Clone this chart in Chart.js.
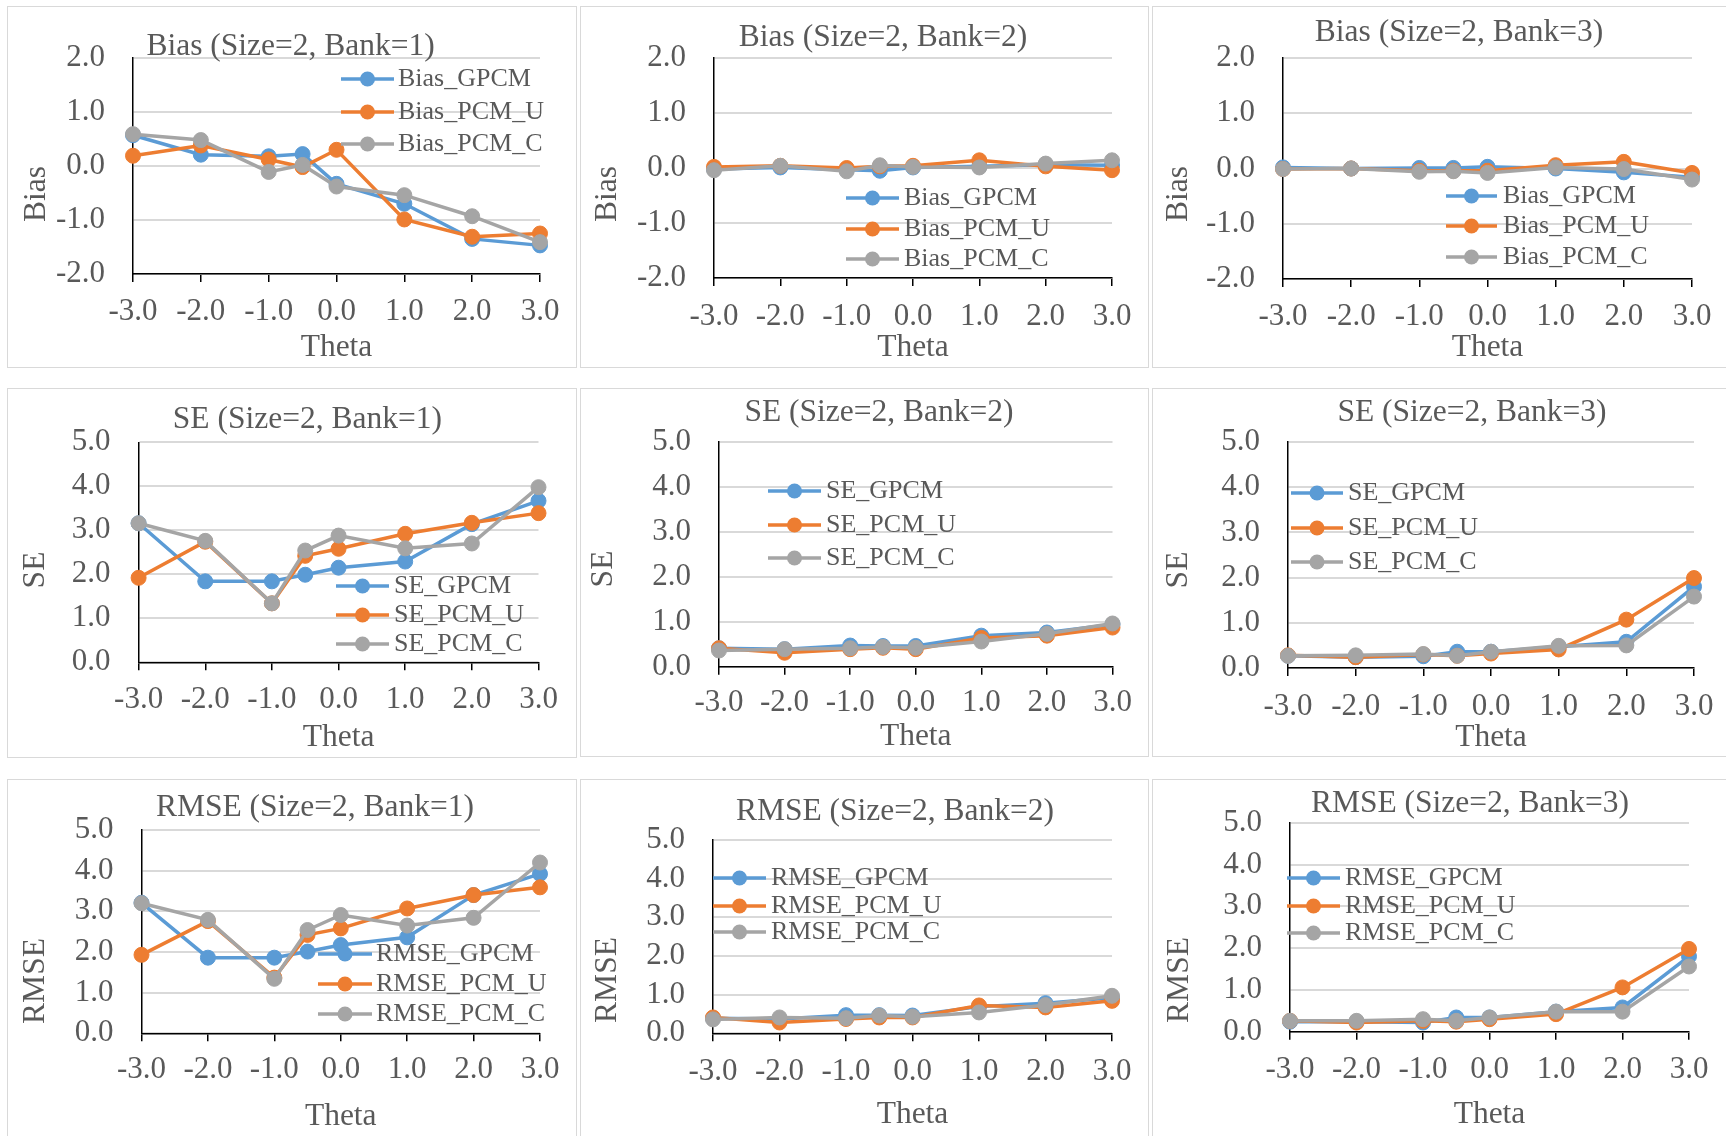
<!DOCTYPE html>
<html>
<head>
<meta charset="utf-8">
<script src="https://cdn.jsdelivr.net/npm/chart.js@4.4.1/dist/chart.umd.min.js"></script>
<style>
  html, body { margin: 0; padding: 0; background: #ffffff; }
  body { width: 1726px; height: 1136px; position: relative; overflow: hidden; }
  .panel { position: absolute; box-sizing: border-box; border: 1.5px solid #D9D9D9; }
  canvas { position: absolute; }
</style>
</head>
<body>
<script>
// ---- data ----
const theta = [-3, -2, -1, -0.5, 0, 1, 2, 3];
const thetaTicks = [-3, -2, -1, 0, 1, 2, 3];
const biasTicks = [-2, -1, 0, 1, 2];
const errorTicks = [0, 1, 2, 3, 4, 5];
const models = ['GPCM', 'PCM_U', 'PCM_C'];

const bias1GPCM = [0.57, 0.21, 0.18, 0.22, -0.33, -0.70, -1.35, -1.47];
const bias1PCMU = [0.19, 0.38, 0.12, -0.02, 0.30, -0.99, -1.31, -1.25];
const bias1PCMC = [0.59, 0.48, -0.11, 0.02, -0.38, -0.54, -0.93, -1.41];

const bias2GPCM = [-0.02, 0.01, -0.03, -0.05, 0.01, 0.03, 0.06, 0.05];
const bias2PCMU = [0.02, 0.04, 0.00, 0.03, 0.04, 0.14, 0.03, -0.04];
const bias2PCMC = [-0.04, 0.04, -0.06, 0.05, 0.02, 0.01, 0.08, 0.14];

const bias3GPCM = [0.02, 0.00, 0.01, 0.01, 0.03, 0.00, -0.07, -0.16];
const bias3PCMU = [-0.01, 0.00, -0.04, -0.04, -0.04, 0.06, 0.12, -0.08];
const bias3PCMC = [-0.01, 0.00, -0.06, -0.05, -0.08, 0.02, -0.01, -0.20];

const se1GPCM = [3.16, 1.84, 1.84, 1.99, 2.15, 2.29, 3.14, 3.67];
const se1PCMU = [1.92, 2.74, 1.34, 2.42, 2.58, 2.92, 3.17, 3.39];
const se1PCMC = [3.16, 2.76, 1.34, 2.54, 2.88, 2.59, 2.70, 3.98];

const se2GPCM = [0.41, 0.39, 0.47, 0.46, 0.46, 0.69, 0.76, 0.94];
const se2PCMU = [0.41, 0.31, 0.39, 0.42, 0.39, 0.64, 0.69, 0.87];
const se2PCMC = [0.36, 0.39, 0.41, 0.44, 0.42, 0.56, 0.73, 0.96];

const se3GPCM = [0.27, 0.24, 0.26, 0.36, 0.36, 0.47, 0.58, 1.80];
const se3PCMU = [0.28, 0.24, 0.30, 0.27, 0.32, 0.41, 1.07, 1.99];
const se3PCMC = [0.27, 0.28, 0.31, 0.27, 0.36, 0.49, 0.50, 1.58];

const rmse1GPCM = [3.21, 1.86, 1.86, 2.01, 2.17, 2.36, 3.40, 3.92];
const rmse1PCMU = [1.93, 2.76, 1.37, 2.42, 2.58, 3.07, 3.40, 3.59];
const rmse1PCMC = [3.20, 2.79, 1.34, 2.54, 2.91, 2.65, 2.84, 4.20];

const rmse2GPCM = [0.39, 0.37, 0.47, 0.47, 0.46, 0.69, 0.78, 0.92];
const rmse2PCMU = [0.41, 0.28, 0.37, 0.41, 0.41, 0.72, 0.67, 0.84];
const rmse2PCMC = [0.36, 0.41, 0.39, 0.46, 0.43, 0.54, 0.73, 0.97];

const rmse3GPCM = [0.24, 0.24, 0.22, 0.34, 0.34, 0.48, 0.58, 1.80];
const rmse3PCMU = [0.26, 0.22, 0.26, 0.24, 0.30, 0.42, 1.06, 1.98];
const rmse3PCMC = [0.26, 0.26, 0.30, 0.26, 0.34, 0.48, 0.48, 1.56];

// ---- styling ----
const FONT = 'Liberation Serif';
const TEXT = '#595959';
const COLORS = ['#5B9BD5', '#ED7D31', '#A5A5A5'];
const TITLE_SIZE = 31.5;
const TICK_SIZE = 31;
const AXIS_TITLE_SIZE = 31.5;
const LEGEND_SIZE = 26;
const TICK_LEN = 8;

// ---- panel layout (page pixels) ----
const panels = [
  { metric: 'Bias', bank: 1, series: [bias1GPCM, bias1PCMU, bias1PCMC], yTicks: biasTicks,
    box: [7, 6, 577, 368], area: [133, 58, 540, 274], title: [290.6, 47], yTitle: [37, 194],
    xTickY: 312, xTitleY: 348, legend: { x1: 341, x2: 394, tx: 398, ys: [79, 112, 144] } },
  { metric: 'Bias', bank: 2, series: [bias2GPCM, bias2PCMU, bias2PCMC], yTicks: biasTicks,
    box: [580, 6, 1149, 368], area: [714, 58, 1112, 278], title: [883, 38], yTitle: [608, 194],
    xTickY: 317, xTitleY: 348, legend: { x1: 846, x2: 899, tx: 904, ys: [198, 229, 259] } },
  { metric: 'Bias', bank: 3, series: [bias3GPCM, bias3PCMU, bias3PCMC], yTicks: biasTicks,
    box: [1152, 6, 1728, 368], area: [1283, 58, 1692, 279], title: [1459, 33], yTitle: [1179, 194],
    xTickY: 317, xTitleY: 348, legend: { x1: 1446, x2: 1497, tx: 1503, ys: [196, 226, 257] } },

  { metric: 'SE', bank: 1, series: [se1GPCM, se1PCMU, se1PCMC], yTicks: errorTicks,
    box: [7, 388, 577, 758], area: [138.6, 442.3, 538.5, 662.3], title: [307.4, 420], yTitle: [36, 570],
    xTickY: 700, xTitleY: 738, legend: { x1: 336, x2: 389, tx: 394, ys: [586, 615, 644] } },
  { metric: 'SE', bank: 2, series: [se2GPCM, se2PCMU, se2PCMC], yTicks: errorTicks,
    box: [580, 388, 1149, 757], area: [719, 441.7, 1112.5, 666.7], title: [879, 413], yTitle: [604, 569],
    xTickY: 703, xTitleY: 737, legend: { x1: 768, x2: 821, tx: 826, ys: [491, 525, 558] } },
  { metric: 'SE', bank: 3, series: [se3GPCM, se3PCMU, se3PCMC], yTicks: errorTicks,
    box: [1152, 388, 1728, 757], area: [1288, 442, 1694, 668], title: [1472, 413], yTitle: [1179, 570],
    xTickY: 707, xTitleY: 738, legend: { x1: 1291, x2: 1343, tx: 1348, ys: [493, 528, 562] } },

  { metric: 'RMSE', bank: 1, series: [rmse1GPCM, rmse1PCMU, rmse1PCMC], yTicks: errorTicks,
    box: [7, 779, 577, 1138], area: [141.5, 830, 540, 1033.3], title: [315, 808], yTitle: [36, 981],
    xTickY: 1070, xTitleY: 1117, legend: { x1: 318, x2: 372, tx: 376, ys: [954, 984, 1014] } },
  { metric: 'RMSE', bank: 2, series: [rmse2GPCM, rmse2PCMU, rmse2PCMC], yTicks: errorTicks,
    box: [580, 779, 1149, 1138], area: [713, 840, 1112, 1033.3], title: [895, 812], yTitle: [608, 980],
    xTickY: 1072, xTitleY: 1115, legend: { x1: 713, x2: 766, tx: 771, ys: [878, 906, 932] } },
  { metric: 'RMSE', bank: 3, series: [rmse3GPCM, rmse3PCMU, rmse3PCMC], yTicks: errorTicks,
    box: [1152, 779, 1728, 1138], area: [1290, 822.7, 1689, 1031.7], title: [1470, 804], yTitle: [1180, 980],
    xTickY: 1070, xTitleY: 1115, legend: { x1: 1287, x2: 1340, tx: 1345, ys: [878, 906, 933] } }
];

// Draws the panel heading, the rotated y-axis caption and the in-plot legend.
const panelDecor = {
  id: 'panelDecor',
  afterDraw(chart, args, opts) {
    const ctx = chart.ctx;

    ctx.save();
    ctx.fillStyle = TEXT;
    ctx.font = TITLE_SIZE + 'px "' + FONT + '"';
    ctx.textAlign = 'center';
    ctx.textBaseline = 'middle';
    ctx.fillText(opts.heading, opts.headingX, opts.headingY);
    ctx.restore();

    ctx.save();
    ctx.fillStyle = TEXT;
    ctx.font = AXIS_TITLE_SIZE + 'px "' + FONT + '"';
    ctx.textAlign = 'center';
    ctx.textBaseline = 'middle';
    ctx.translate(opts.yTitleX, opts.yTitleY);
    ctx.rotate(-Math.PI / 2);
    ctx.fillText(opts.yText, 0, 0);
    ctx.restore();

    const lg = opts.legend;
    chart.data.datasets.forEach((ds, i) => {
      const y = lg.ys[i];
      ctx.save();
      ctx.strokeStyle = ds.borderColor;
      ctx.lineWidth = ds.borderWidth;
      ctx.beginPath();
      ctx.moveTo(lg.x1, y);
      ctx.lineTo(lg.x2, y);
      ctx.stroke();
      ctx.fillStyle = ds.pointBackgroundColor;
      ctx.beginPath();
      ctx.arc((lg.x1 + lg.x2) / 2, y, ds.pointRadius, 0, Math.PI * 2);
      ctx.fill();
      ctx.fillStyle = TEXT;
      ctx.font = LEGEND_SIZE + 'px "' + FONT + '"';
      ctx.textAlign = 'left';
      ctx.textBaseline = 'middle';
      ctx.fillText(ds.label, lg.tx, y);
      ctx.restore();
    });
  }
};

function buildPanel(p) {
  const [bl, bt, br, bb] = p.box;
  const W = br - bl, H = bb - bt;

  const frame = document.createElement('div');
  frame.className = 'panel';
  Object.assign(frame.style, { left: bl + 'px', top: bt + 'px', width: W + 'px', height: H + 'px' });
  document.body.appendChild(frame);

  const cv = document.createElement('canvas');
  cv.width = W; cv.height = H;
  Object.assign(cv.style, { left: bl + 'px', top: bt + 'px', width: W + 'px', height: H + 'px' });
  document.body.appendChild(cv);

  // chart-area edges in canvas coordinates
  const aL = p.area[0] - bl, aT = p.area[1] - bt, aR = p.area[2] - bl, aB = p.area[3] - bt;
  const padRight = W - aR;
  const yAxisWidth = aL;
  const xAxisHeight = H - aB;
  const xTickPad = p.xTickY - p.area[3] - TICK_LEN - TICK_SIZE / 2;
  const xTitlePad = (bb - p.xTitleY) - AXIS_TITLE_SIZE / 2;

  const datasets = p.series.map((vals, i) => ({
    label: p.metric + '_' + models[i],
    data: theta.map((t, k) => ({ x: t, y: vals[k] })),
    borderColor: COLORS[i],
    backgroundColor: COLORS[i],
    pointBackgroundColor: COLORS[i],
    pointBorderColor: COLORS[i],
    borderWidth: 3.5,
    pointRadius: 7.5,
    pointBorderWidth: 1,
    tension: 0,
    clip: false,
    order: 3 - i
  }));

  const yMin = p.yTicks[0], yMax = p.yTicks[p.yTicks.length - 1];

  new Chart(cv, {
    type: 'line',
    data: { datasets },
    options: {
      responsive: false,
      animation: false,
      devicePixelRatio: 1,
      layout: { padding: { left: 0, right: padRight, top: aT, bottom: 0 } },
      plugins: {
        legend: { display: false },
        tooltip: { enabled: false },
        title: { display: false },
        panelDecor: {
          heading: p.metric + ' (Size=2, Bank=' + p.bank + ')',
          headingX: p.title[0] - bl,
          headingY: p.title[1] - bt,
          yText: p.metric,
          yTitleX: p.yTitle[0] - bl,
          yTitleY: p.yTitle[1] - bt,
          legend: {
            x1: p.legend.x1 - bl, x2: p.legend.x2 - bl, tx: p.legend.tx - bl,
            ys: p.legend.ys.map(v => v - bt)
          }
        }
      },
      scales: {
        x: {
          type: 'linear',
          min: -3, max: 3,
          afterBuildTicks: s => { s.ticks = thetaTicks.map(v => ({ value: v })); },
          afterFit: s => { s.height = xAxisHeight; s.paddingLeft = 0; s.paddingRight = 0; },
          grid: { drawOnChartArea: false, drawTicks: true, tickLength: TICK_LEN, color: '#000000', lineWidth: 1.5 },
          border: { display: true, color: '#000000', width: 1.5 },
          ticks: {
            padding: xTickPad, maxRotation: 0, autoSkip: false, color: TEXT,
            font: { family: FONT, size: TICK_SIZE, lineHeight: 1 },
            callback: v => Number(v).toFixed(1)
          },
          title: {
            display: true, text: 'Theta', color: TEXT,
            font: { family: FONT, size: AXIS_TITLE_SIZE, lineHeight: 1 },
            padding: { top: 0, bottom: xTitlePad }
          }
        },
        y: {
          type: 'linear',
          min: yMin, max: yMax,
          afterBuildTicks: s => { s.ticks = p.yTicks.map(v => ({ value: v })); },
          afterFit: s => { s.width = yAxisWidth; s.paddingTop = 0; s.paddingBottom = 0; },
          grid: { color: '#D9D9D9', lineWidth: 2, drawTicks: false },
          border: { display: true, color: '#000000', width: 1.5 },
          ticks: {
            padding: 28, color: TEXT,
            font: { family: FONT, size: TICK_SIZE, lineHeight: 1 },
            callback: v => Number(v).toFixed(1)
          }
        }
      }
    },
    plugins: [panelDecor]
  });
}

panels.forEach(buildPanel);
</script>
</body>
</html>
